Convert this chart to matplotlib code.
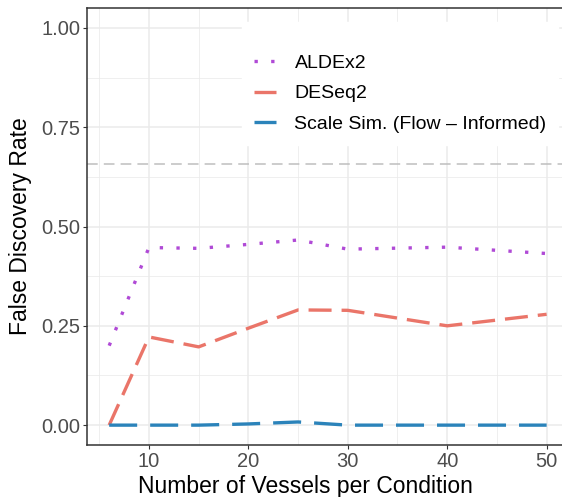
import matplotlib
matplotlib.use("Agg")
import matplotlib.pyplot as plt

plt.rcParams['font.family'] = ['Liberation Sans', 'DejaVu Sans']

vessels = [6, 10, 15, 20, 25, 30, 40, 50]
aldex2 = [0.200, 0.447, 0.445, 0.455, 0.466, 0.443, 0.448, 0.432]
deseq2 = [0.000, 0.222, 0.197, 0.244, 0.290, 0.289, 0.250, 0.279]
scale_sim = [0.000, 0.000, 0.000, 0.003, 0.008, 0.000, 0.000, 0.000]
reference_fdr = 0.657

series_names = ["ALDEx2", "DESeq2", "Scale Sim. (Flow \u2013 Informed)"]
colors = ["#B04AD6", "#EA7569", "#2B83BA"]

W, H = 562, 497
fig = plt.figure(figsize=(W / 100, H / 100), dpi=100)
ax = fig.add_axes([87.3 / W, 52 / H, (568.5 - 87.3) / W, (445 - 8) / H])

lw = 2.4
ax.plot(vessels, aldex2, color=colors[0], lw=lw, linestyle=(0, (1, 4)),
        dash_capstyle='butt', label=series_names[0], zorder=3)
ax.plot(vessels, deseq2, color=colors[1], lw=lw, linestyle=(0, (6.9, 3.0)),
        dash_capstyle='butt', label=series_names[1], zorder=3)
ax.plot(vessels, scale_sim, color=colors[2], lw=lw, linestyle=(0, (8.4, 3.9)),
        dash_capstyle='butt', label=series_names[2], zorder=3)
ax.axhline(reference_fdr, color="#BEBEBE", lw=1.1, linestyle=(0, (7, 4)), zorder=2)

ax.set_xlim(3.8, 52.2)
ax.set_ylim(-0.05, 1.05)
ax.set_xticks([10, 20, 30, 40, 50])
ax.set_xticks([5, 15, 25, 35, 45], minor=True)
ax.set_yticks([0, 0.25, 0.5, 0.75, 1.0])
ax.set_yticks([0.125, 0.375, 0.625, 0.875], minor=True)
ax.set_yticklabels(["0.00", "0.25", "0.50", "0.75", "1.00"])

ax.set_axisbelow(True)
ax.grid(which='major', color="#EBEBEB", lw=1.1)
ax.grid(which='minor', color="#EBEBEB", lw=0.55)
ax.tick_params(which='major', length=3, width=0.8, color="#333333",
               labelsize=14.5, labelcolor="#4D4D4D", pad=2)
ax.tick_params(which='minor', length=0)
for s in ax.spines.values():
    s.set_color("#333333")
    s.set_linewidth(1.1)
ax.spines['right'].set_visible(False)

ax.set_xlabel("Number of Vessels per Condition", fontsize=16.5, color="black")
ax.set_ylabel("False Discovery Rate", fontsize=16.5, color="black")
ax.xaxis.set_label_coords((305 - 87.3) / 481.2, -0.068)
ax.yaxis.set_label_coords(-0.115, 0.5)

leg = ax.legend(loc='upper left', bbox_to_anchor=(242 / W, 1 - 22 / H),
                bbox_transform=fig.transFigure, borderaxespad=0,
                fontsize=14, frameon=True, fancybox=False, framealpha=1,
                edgecolor='white', facecolor='white',
                handlelength=1.15, handletextpad=0.95, labelspacing=0.68,
                borderpad=0.6, title=' ', title_fontsize=5)
leg.set_zorder(5)

fig.savefig("out.png", dpi=100)
